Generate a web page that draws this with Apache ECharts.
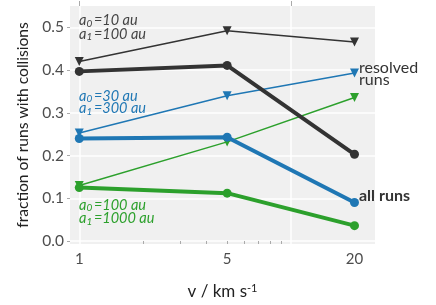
<!DOCTYPE html>
<html><head><meta charset="utf-8">
<script src="https://cdn.jsdelivr.net/npm/echarts@6/dist/echarts.min.js"></script>
<style>html,body{margin:0;padding:0;background:#fff}#c{width:436px;height:305px}</style>
</head><body><div id="c"></div><script>
// ---- data ----
const velocities = [1, 5, 20];
const allRuns10 = [0.397, 0.411, 0.203];
const resolved10 = [0.420, 0.492, 0.466];
const allRuns30 = [0.240, 0.243, 0.090];
const resolved30 = [0.253, 0.340, 0.393];
const allRuns100 = [0.125, 0.112, 0.036];
const resolved100 = [0.130, 0.232, 0.336];
const xLabelValues = [1, 5, 20];
const xMinorTickValues = [2, 3, 4, 5, 6, 7, 8, 9];
const xMajorValues = [1, 10];
const yTickValues = [0, 0.1, 0.2, 0.3, 0.4, 0.5];

const FONT = 'Lato';
const C_BLACK = '#333333', C_BLUE = '#1f77b4', C_GREEN = '#2ca02c';

function pts(vals) { return velocities.map((v, i) => [v, vals[i]]); }
function thin(vals, color) {
  return { type: 'line', data: pts(vals), symbol: 'triangle', symbolRotate: 180, symbolSize: 9,
    lineStyle: { width: 1.5, color: color }, itemStyle: { color: color }, z: 2 };
}
function thick(vals, color) {
  return { type: 'line', data: pts(vals), symbol: 'circle', symbolSize: 9,
    lineStyle: { width: 4, color: color }, itemStyle: { color: color }, z: 3 };
}
function aLine(x, y, color, idx, value) {
  const m = { fontSize: 14.5, fontStyle: 'italic', fontFamily: FONT, fill: color, lineHeight: 16 };
  const s = { fontSize: 10, fontStyle: 'italic', fontFamily: FONT, fill: color, lineHeight: 8, padding: [6, 0, 0, 0] };
  return { type: 'text', left: x, top: y, z: 10,
    style: { text: '{m|a}{s|' + idx + '}{m|\u2009=' + value + ' au}', rich: { m: m, s: s } } };
}

const chart = echarts.init(document.getElementById('c'));
const xCommon = { type: 'log', logBase: 10, min: 0.904, max: 25, axisLine: { show: false } };
chart.setOption({
  animation: false,
  backgroundColor: '#ffffff',
  grid: { left: 70, right: 61, top: 6, bottom: 56, show: true, backgroundColor: '#f0f0f0', borderWidth: 0 },
  xAxis: [
    Object.assign({}, xCommon, {
      name: '{n|v / km s}{sup|-1}', nameLocation: 'middle', nameGap: 39,
      nameTextStyle: { rich: {
        n: { fontSize: 17, fontFamily: FONT, color: '#222' },
        sup: { fontSize: 11, fontFamily: FONT, color: '#222', verticalAlign: 'top', lineHeight: 11 } } },
      axisLabel: { customValues: xLabelValues, fontSize: 15, fontFamily: FONT, color: '#4d4d4d', margin: 8 },
      axisTick: { customValues: xMinorTickValues, length: 3, lineStyle: { color: '#aaaaaa', width: 1 } },
      splitLine: { show: false }
    }),
    Object.assign({}, xCommon, {
      axisLabel: { show: false },
      axisTick: { customValues: xMajorValues, length: 5, lineStyle: { color: '#aaaaaa', width: 1 } },
      splitLine: { show: true, lineStyle: { color: '#ffffff', width: 1.5 } }
    })
  ],
  yAxis: {
    type: 'value', min: -0.007, max: 0.55,
    name: 'fraction of runs with collisions', nameLocation: 'middle', nameGap: 33,
    nameTextStyle: { fontSize: 15.6, fontFamily: FONT, color: '#222' },
    axisLine: { show: false },
    axisLabel: { customValues: yTickValues, fontSize: 15.5, fontFamily: FONT, color: '#4d4d4d', margin: 6,
      formatter: v => v.toFixed(1) },
    axisTick: { customValues: yTickValues, length: 3, lineStyle: { color: '#aaaaaa' } },
    splitLine: { show: true, lineStyle: { color: '#ffffff', width: 1.5 } }
  },
  series: [
    thin(resolved10, C_BLACK), thin(resolved30, C_BLUE), thin(resolved100, C_GREEN),
    thick(allRuns10, C_BLACK), thick(allRuns30, C_BLUE), thick(allRuns100, C_GREEN)
  ],
  graphic: [
    aLine(79, 12.5, '#444444', '0', '10'),
    aLine(79, 26, '#444444', '1', '100'),
    aLine(79, 88, C_BLUE, '0', '30'),
    aLine(79, 100.5, C_BLUE, '1', '300'),
    aLine(79, 197, C_GREEN, '0', '100'),
    aLine(79, 210.3, C_GREEN, '1', '1000'),
    { type: 'text', left: 359, top: 60, z: 10,
      style: { text: 'resolved\nruns', fontSize: 16, fontFamily: FONT, fill: '#333', lineHeight: 12 } },
    { type: 'text', left: 359, top: 188, z: 10,
      style: { text: 'all runs', fontSize: 16, fontWeight: 'bold', fontFamily: FONT, fill: '#333', lineHeight: 16 } }
  ]
});
</script></body></html>
